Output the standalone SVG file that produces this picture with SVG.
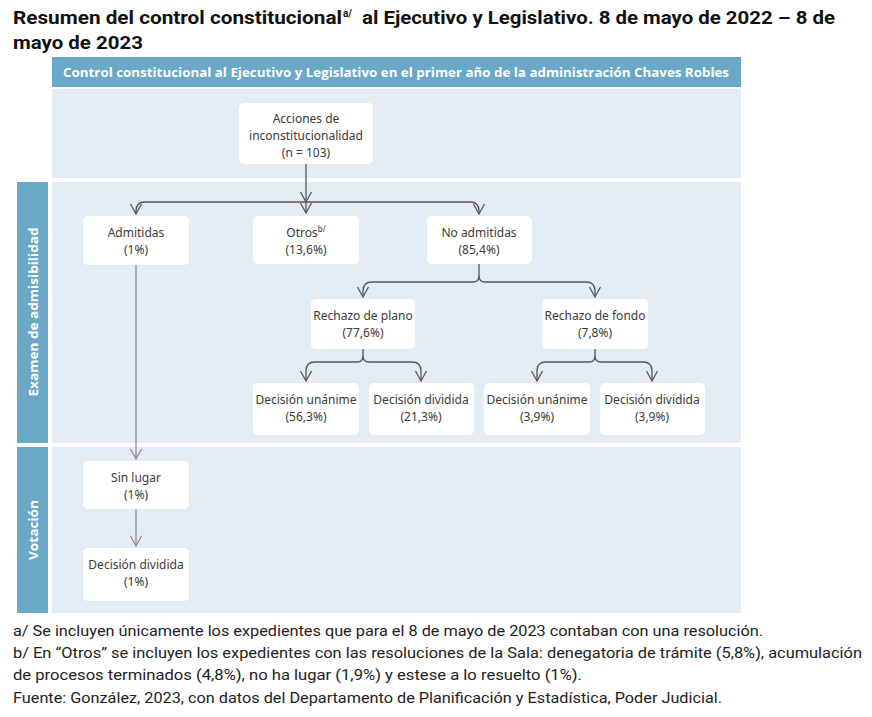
<svg xmlns="http://www.w3.org/2000/svg" width="872" height="717" viewBox="0 0 872 717">
<style>
.title{font-family:Roboto,"Liberation Sans",sans-serif;font-weight:bold;font-size:19px;fill:#111}
.hdr{font-family:"Open Sans","Noto Sans",sans-serif;font-weight:bold;font-size:13px;fill:#fff}
.band{fill:#e4ecf3}
.blue{fill:#6aa8c8}
.node rect{fill:#fff}
.node text{font-family:"Noto Sans","Open Sans",sans-serif;font-size:12px;fill:#3a3a3a;text-anchor:middle}
.sup{font-size:8px}
.conn path{fill:none;stroke:#555;stroke-width:1.3}
.conn path.light{stroke:#8c8c8c}
.note{font-family:Roboto,"Liberation Sans",sans-serif;font-size:15px;fill:#222}
</style>
<defs>
<marker id="arr" viewBox="-1 -7 13 14" refX="10" refY="0" markerWidth="13" markerHeight="14" markerUnits="userSpaceOnUse" orient="auto">
<path d="M0,-5.5 L10,0 L0,5.5" fill="none" stroke="#555" stroke-width="1.3"/>
</marker>
<marker id="arrl" viewBox="-1 -7 13 14" refX="10" refY="0" markerWidth="13" markerHeight="14" markerUnits="userSpaceOnUse" orient="auto">
<path d="M0,-5.5 L10,0 L0,5.5" fill="none" stroke="#8c8c8c" stroke-width="1.3"/>
</marker>
</defs>
<rect width="872" height="717" fill="#fff"/>
<g id="title">
<text class="title" x="13" y="24" textLength="329" lengthAdjust="spacingAndGlyphs">Resumen del control constitucional</text>
<text class="title" x="343" y="17" font-size="10" style="font-size:10px">a/</text>
<text class="title" x="362" y="24" textLength="473" lengthAdjust="spacingAndGlyphs">al Ejecutivo y Legislativo. 8 de mayo de 2022 – 8 de</text>
<text class="title" x="13" y="49" textLength="130" lengthAdjust="spacingAndGlyphs">mayo de 2023</text>
</g>
<g id="bands">
<rect class="blue" x="52" y="57" width="689" height="30"/>
<text class="hdr" x="396" y="77" text-anchor="middle" textLength="666" lengthAdjust="spacingAndGlyphs">Control constitucional al Ejecutivo y Legislativo en el primer año de la administración Chaves Robles</text>
<rect class="band" x="52" y="89" width="689" height="89"/>
<rect class="blue" x="17" y="182" width="31" height="261"/>
<rect class="band" x="52" y="182" width="689" height="261"/>
<rect class="blue" x="17" y="447" width="31" height="166"/>
<rect class="band" x="52" y="447" width="689" height="166"/>
<text class="hdr" transform="translate(38,312) rotate(-90)" text-anchor="middle" textLength="169" lengthAdjust="spacingAndGlyphs">Examen de admisibilidad</text>
<text class="hdr" transform="translate(38,530) rotate(-90)" text-anchor="middle" textLength="60" lengthAdjust="spacingAndGlyphs">Votación</text>
</g>
<g id="connectors" class="conn">
<path d="M306,164 V202" marker-end="url(#arr)"/>
<path d="M306,202 V213" marker-end="url(#arr)"/>
<path d="M306,202 H145 Q136,202 136,211 V214" marker-end="url(#arr)"/>
<path d="M306,202 H470 Q479,202 479,211 V214" marker-end="url(#arr)"/>
<path d="M479,264 V276 Q479,282 473,282 H372 Q363,282 363,291 V297" marker-end="url(#arr)"/>
<path d="M479,276 Q479,282 485,282 H586 Q595,282 595,291 V297" marker-end="url(#arr)"/>
<path d="M363,349 V356 Q363,362 357,362 H315 Q306,362 306,371 V381" marker-end="url(#arr)"/>
<path d="M363,356 Q363,362 369,362 H412 Q421,362 421,371 V381" marker-end="url(#arr)"/>
<path d="M595,349 V356 Q595,362 589,362 H546 Q537,362 537,371 V381" marker-end="url(#arr)"/>
<path d="M595,356 Q595,362 601,362 H643 Q652,362 652,371 V381" marker-end="url(#arr)"/>
<path class="light" d="M136,265 V459" marker-end="url(#arrl)"/>
<path class="light" d="M136,509 V546" marker-end="url(#arrl)"/>
</g>
<g id="n-acciones" class="node">
<rect x="239" y="103" width="134" height="61" rx="5"/>
<text x="306" y="123">Acciones de</text>
<text x="306" y="140">inconstitucionalidad</text>
<text x="306" y="157">(n = 103)</text>
</g>
<g id="n-admitidas" class="node">
<rect x="83" y="216" width="106" height="49" rx="5"/>
<text x="136" y="237">Admitidas</text>
<text x="136" y="254">(1%)</text>
</g>
<g id="n-otros" class="node">
<rect x="253" y="216" width="106" height="48" rx="5"/>
<text x="306" y="237">Otros<tspan class="sup" dy="-5">b/</tspan></text>
<text x="306" y="254">(13,6%)</text>
</g>
<g id="n-noadmitidas" class="node">
<rect x="427" y="216" width="105" height="48" rx="5"/>
<text x="479" y="237">No admitidas</text>
<text x="479" y="254">(85,4%)</text>
</g>
<g id="n-rplano" class="node">
<rect x="311" y="299" width="104" height="50" rx="5"/>
<text x="363" y="320">Rechazo de plano</text>
<text x="363" y="337">(77,6%)</text>
</g>
<g id="n-rfondo" class="node">
<rect x="542" y="299" width="106" height="50" rx="5"/>
<text x="595" y="320">Rechazo de fondo</text>
<text x="595" y="337">(7,8%)</text>
</g>
<g id="n-du1" class="node">
<rect x="253" y="383" width="106" height="52" rx="5"/>
<text x="306" y="404">Decisión unánime</text>
<text x="306" y="421">(56,3%)</text>
</g>
<g id="n-dd1" class="node">
<rect x="369" y="383" width="105" height="52" rx="5"/>
<text x="421" y="404">Decisión dividida</text>
<text x="421" y="421">(21,3%)</text>
</g>
<g id="n-du2" class="node">
<rect x="484" y="383" width="106" height="52" rx="5"/>
<text x="537" y="404">Decisión unánime</text>
<text x="537" y="421">(3,9%)</text>
</g>
<g id="n-dd2" class="node">
<rect x="600" y="383" width="105" height="52" rx="5"/>
<text x="652" y="404">Decisión dividida</text>
<text x="652" y="421">(3,9%)</text>
</g>
<g id="n-sinlugar" class="node">
<rect x="83" y="461" width="106" height="48" rx="5"/>
<text x="136" y="482">Sin lugar</text>
<text x="136" y="499">(1%)</text>
</g>
<g id="n-dd3" class="node">
<rect x="83" y="548" width="106" height="53" rx="5"/>
<text x="136" y="569">Decisión dividida</text>
<text x="136" y="586">(1%)</text>
</g>
<g id="notes">
<text class="note" x="13" y="636" textLength="750" lengthAdjust="spacingAndGlyphs">a/ Se incluyen únicamente los expedientes que para el 8 de mayo de 2023 contaban con una resolución.</text>
<text class="note" x="13" y="658" textLength="849" lengthAdjust="spacingAndGlyphs">b/ En “Otros” se incluyen los expedientes con las resoluciones de la Sala: denegatoria de trámite (5,8%), acumulación</text>
<text class="note" x="13" y="680" textLength="569" lengthAdjust="spacingAndGlyphs">de procesos terminados (4,8%), no ha lugar (1,9%) y estese a lo resuelto (1%).</text>
<text class="note" x="13" y="703" textLength="709" lengthAdjust="spacingAndGlyphs">Fuente: González, 2023, con datos del Departamento de Planificación y Estadística, Poder Judicial.</text>
</g>
</svg>
